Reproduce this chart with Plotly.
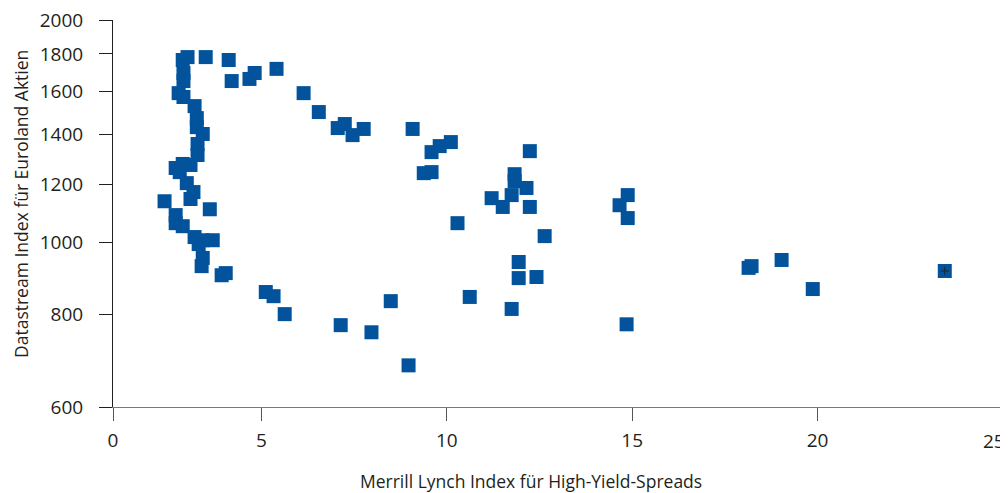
import plotly.graph_objects as go

# Merrill Lynch High-Yield spread (x) vs. Datastream Euroland equity index (y)
spread = [
    2.88, 3.01, 2.90, 2.90, 3.50, 4.12, 4.20, 4.68, 4.82, 5.41,
    2.77, 2.90, 3.20, 3.26, 3.26, 3.42, 3.28, 3.28, 2.69, 2.88,
    3.09, 2.80, 2.99, 3.17, 3.09, 2.39, 3.61, 2.69, 2.69, 2.88,
    3.20, 3.42, 3.69, 3.31, 3.42, 3.39, 4.04, 3.93,
    5.12, 5.33, 5.63,
    6.14, 6.55, 7.06, 7.25, 7.46, 7.76, 9.08, 9.59, 9.81, 10.11,
    9.38, 9.59, 10.29, 7.14, 7.97, 8.49, 8.97, 10.62,
    12.24, 11.83, 11.83, 12.15, 11.75, 11.21, 11.51, 12.24, 12.64, 11.75,
    11.94, 11.94, 12.42, 14.85, 14.88, 14.66, 14.88,
    18.14, 18.22, 19.03, 19.87, 23.43,
]
index_level = [
    1766, 1782, 1696, 1654, 1782, 1766, 1654, 1665, 1696, 1718,
    1593, 1574, 1530, 1474, 1433, 1403, 1360, 1314, 1262, 1278,
    1274, 1246, 1204, 1171, 1146, 1138, 1110, 1090, 1063, 1053,
    1018, 1008, 1008, 996, 954, 930, 910, 904,
    858, 847, 801,
    1593, 1502, 1429, 1447, 1398, 1425, 1425, 1326, 1351, 1368,
    1242, 1246, 1063, 774, 757, 834, 683, 845,
    1330, 1238, 1211, 1186, 1160, 1149, 1118, 1118, 1021, 814,
    942, 896, 899, 776, 1160, 1124, 1080,
    925, 930, 948, 866, 916,
]

x_tickvals = [1, 5, 10, 15, 20, 25]
x_ticktext = ["0", "5", "10", "15", "20", "25"]
y_tickvals = [600, 800, 1000, 1200, 1400, 1600, 1800, 2000]
y_ticktext = [str(v) for v in y_tickvals]

x_title = "Merrill Lynch Index für High-Yield-Spreads"
y_title = "Datastream Index für Euroland Aktien"

TEXT = "#231f20"
BLUE = "#02539c"
FONT = "Open Sans"

# page has an 8px body margin; figure is sized/offset to compensate
PW, PH = 1000, 485
L, R, T, B = 105, 5, 12, 86
plot_w = PW - L - R
plot_h = PH - T - B

fig = go.Figure()
fig.add_trace(go.Scatter(
    x=spread, y=index_level, mode="markers",
    marker=dict(symbol="square", size=14, color=BLUE, line=dict(width=0)),
    showlegend=False,
))
# small cross mark visible inside the right-most point
fig.add_trace(go.Scatter(
    x=[spread[-1]], y=[index_level[-1]], mode="markers",
    marker=dict(symbol="cross-thin", size=6, line=dict(color="#222", width=1)),
    showlegend=False,
))

# last x tick label would overflow the page edge: draw it right-aligned instead
shown_xtext = x_ticktext[:-1] + [""]

fig.update_layout(
    width=PW, height=PH,
    margin=dict(l=L, r=R, t=T, b=B, autoexpand=False),
    paper_bgcolor="white", plot_bgcolor="white",
    font=dict(family=FONT, color=TEXT, size=19),
    xaxis=dict(
        range=[1, 25], tickvals=x_tickvals, ticktext=shown_xtext,
        showgrid=False, zeroline=False, showline=True, automargin=False,
        linecolor="#7a7a7a", linewidth=1,
        ticks="outside", ticklen=13, tickcolor="#555", tickwidth=1,
        ticklabelstandoff=3, ticklabeloverflow="allow",
        tickfont=dict(family=FONT, size=19, color=TEXT),
    ),
    yaxis=dict(
        type="log", range=[2.77815, 3.30104],
        tickvals=y_tickvals, ticktext=y_ticktext,
        showgrid=False, zeroline=False, showline=True, automargin=False,
        linecolor=TEXT, linewidth=1,
        ticks="outside", ticklen=13, tickcolor=TEXT, tickwidth=1,
        ticklabelstandoff=12, ticklabeloverflow="allow",
        tickfont=dict(family=FONT, size=19, color=TEXT),
    ),
    annotations=[
        dict(text=x_ticktext[-1], xref="paper", yref="paper",
             x=1 + (R - 1) / plot_w, y=-(441 - 407) / plot_h,
             xanchor="right", yanchor="middle", showarrow=False,
             font=dict(family=FONT, size=19, color=TEXT)),
        dict(text=x_title, xref="paper", yref="paper",
             x=(531 - 113) / plot_w, y=-(481 - 407) / plot_h,
             xanchor="center", yanchor="middle", showarrow=False,
             font=dict(family=FONT, size=17.5, color=TEXT)),
        dict(text=y_title, xref="paper", yref="paper",
             x=-(113 - 21) / plot_w, y=(407 - 204) / plot_h,
             xanchor="center", yanchor="middle", showarrow=False, textangle=-90,
             font=dict(family=FONT, size=17.5, color=TEXT)),
    ],
)

fig.write_html("out.html")
